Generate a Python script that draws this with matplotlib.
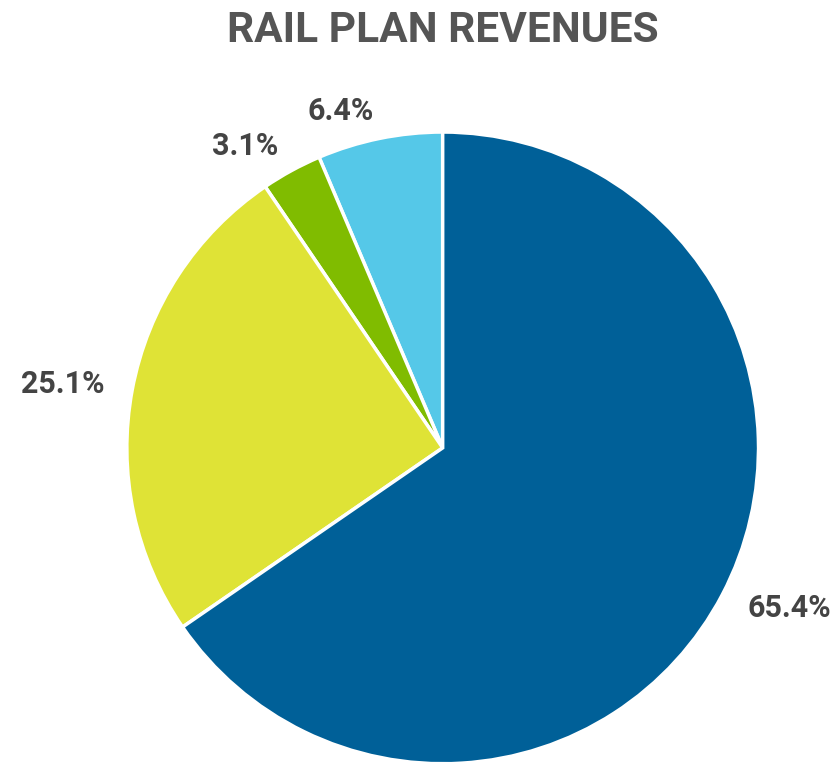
import matplotlib.pyplot as plt

plt.rcParams['font.family'] = ['Roboto', 'DejaVu Sans']

# revenue shares, counter-clockwise from 12 o'clock
labels = ['6.4%', '3.1%', '25.1%', '65.4%']
shares = [6.4, 3.1, 25.1, 65.4]
colors = ['#55c8e8', '#80bc00', '#dfe336', '#006098']

fig = plt.figure(figsize=(8.4, 7.63), dpi=100)
ax = fig.add_axes([0.151, -0.001, 0.752, 0.828])

wedges, texts = ax.pie(shares, labels=labels, colors=colors, startangle=90,
                       counterclock=True, labeldistance=1.09,
                       wedgeprops=dict(edgecolor='white', linewidth=2.5),
                       textprops=dict(fontsize=22, fontweight='bold', color='#444444'))
# labels hug the pie: left-side ones end at the anchor, right-side ones start there
for t in texts:
    x, _ = t.get_position()
    t.set_ha('right' if x < 0 else 'left')
    t.set_va('center')

ax.set_xlim(-1, 1)
ax.set_ylim(-1, 1)
ax.set_aspect('equal')
ax.axis('off')

fig.text(0.527, 0.945, 'RAIL PLAN REVENUES', ha='center', va='baseline',
         fontsize=30.5, fontweight='bold', color='#555555')

fig.savefig('out.png', dpi=100)
